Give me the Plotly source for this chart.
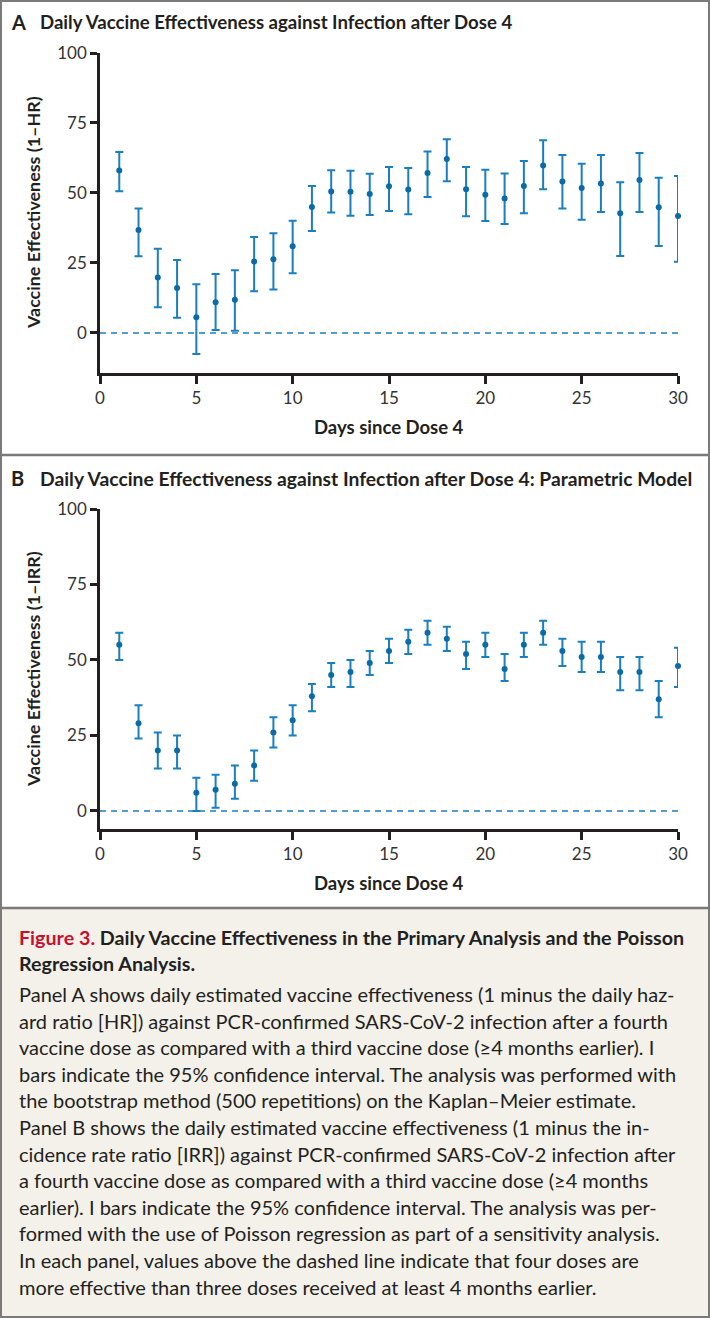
import plotly.graph_objects as go

W, H = 710, 1318

days = list(range(1, 31))

# Panel A: 1 - HR (Kaplan-Meier, bootstrap)
ve_a = [58, 36.8, 19.8, 16.1, 5.6, 11, 11.9, 25.5, 26.3, 31, 45, 50.5, 50.4, 49.6, 52.4,
        51.2, 57.1, 62.1, 51.3, 49.4, 48, 52.5, 59.8, 54.1, 51.8, 53.4, 42.8, 54.6, 44.9, 41.8]
upper_a = [64.6, 44.5, 30.1, 26.1, 17.4, 21.1, 22.4, 34.3, 35.6, 40.1, 52.5, 58.1, 57.9, 56.9, 59.3,
           58.9, 64.8, 69.2, 59.3, 58.3, 57, 61.4, 68.8, 63.6, 60.4, 63.6, 53.8, 64.3, 55.4, 56.1]
lower_a = [50.6, 27.4, 9.2, 5.4, -7.5, 1.1, 0.8, 14.9, 15.5, 21.3, 36.4, 43, 41.9, 42.1, 43.6,
           42.4, 48.6, 54.2, 41.7, 40, 38.9, 42.8, 51.3, 44.5, 40.4, 43.2, 27.5, 43.2, 31.1, 25.4]

# Panel B: 1 - IRR (Poisson regression)
ve_b = [55, 29, 20, 20, 6, 7, 9, 15, 26, 30, 38, 45, 46, 49, 53,
        56, 59, 57, 52, 55, 47, 55, 59, 53, 51, 51, 46, 46, 37, 48]
upper_b = [59, 35, 26, 25, 11, 12, 15, 20, 31, 35, 42, 49, 50, 53, 57,
           60, 63, 61, 56, 59, 52, 59, 63, 57, 56, 56, 51, 51, 43, 54]
lower_b = [50, 24, 14, 14, 0, 1, 4, 10, 21, 25, 33, 41, 41, 45, 49,
           52, 55, 53, 47, 51, 43, 51, 55, 48, 46, 46, 40, 40, 31, 41]

x_ticks = [0, 5, 10, 15, 20, 25, 30]
y_ticks = [0, 25, 50, 75, 100]

title_a = "Daily Vaccine Effectiveness against Infection after Dose 4"
title_b = "Daily Vaccine Effectiveness against Infection after Dose 4: Parametric Model"
ytitle_a = "Vaccine Effectiveness (1\u2013HR)"
ytitle_b = "Vaccine Effectiveness (1\u2013IRR)"
xtitle = "Days since Dose 4"

caption_head = ["<span style='color:#c8102e'>Figure 3.</span> Daily Vaccine Effectiveness in the Primary Analysis and the Poisson",
                "Regression Analysis."]
caption_body = [
    "Panel A shows daily estimated vaccine effectiveness (1 minus the daily haz-",
    "ard ratio [HR]) against PCR-confirmed SARS-CoV-2 infection after a fourth",
    "vaccine dose as compared with a third vaccine dose (\u22654 months earlier). I",
    "bars indicate the 95% confidence interval. The analysis was performed with",
    "the bootstrap method (500 repetitions) on the Kaplan\u2013Meier estimate.",
    "Panel B shows the daily estimated vaccine effectiveness (1 minus the in-",
    "cidence rate ratio [IRR]) against PCR-confirmed SARS-CoV-2 infection after",
    "a fourth vaccine dose as compared with a third vaccine dose (\u22654 months",
    "earlier). I bars indicate the 95% confidence interval. The analysis was per-",
    "formed with the use of Poisson regression as part of a sensitivity analysis.",
    "In each panel, values above the dashed line indicate that four doses are",
    "more effective than three doses received at least 4 months earlier.",
]

FONT = "Lato"
BLUE = "#1a7fc1"
DOT = "#0b6aa8"
AX = "#231f20"


def px_x(p):
    return p / W


def px_y(p):
    return 1 - p / H


fig = go.Figure()

for ve, up, lo, xa, ya in [(ve_a, upper_a, lower_a, "x", "y"), (ve_b, upper_b, lower_b, "x2", "y2")]:
    fig.add_trace(go.Scatter(
        x=[0, 30], y=[0, 0], mode="lines", xaxis=xa, yaxis=ya,
        line=dict(color=BLUE, width=1.5, dash="6px,5px"), hoverinfo="skip", showlegend=False))
    fig.add_trace(go.Scatter(
        x=days, y=ve, mode="markers", xaxis=xa, yaxis=ya, cliponaxis=False,
        marker=dict(color=DOT, size=6),
        error_y=dict(type="data", symmetric=False,
                     array=[u - v for u, v in zip(up, ve)],
                     arrayminus=[v - l for v, l in zip(ve, lo)],
                     color=BLUE, thickness=2, width=4),
        showlegend=False))

axis_common = dict(showline=True, linecolor=AX, linewidth=2.5, ticks="outside",
                   tickcolor=AX, tickwidth=2.5, showgrid=False, zeroline=False,
                   automargin=False,
                   tickfont=dict(family=FONT, size=17, color="#333"))

fig.update_layout(
    width=W, height=H, margin=dict(l=0, r=0, t=0, b=0, pad=0, autoexpand=False),
    paper_bgcolor="white", plot_bgcolor="white", hovermode=False,
    xaxis=dict(domain=[px_x(100), px_x(678)], range=[0, 30], tickvals=x_ticks, ticklen=8,
               anchor="y", **axis_common),
    yaxis=dict(domain=[px_y(373), px_y(53)], range=[-14.3, 100], tickvals=y_ticks, ticklen=7,
               anchor="x", **axis_common),
    xaxis2=dict(domain=[px_x(100), px_x(678)], range=[0, 30], tickvals=x_ticks, ticklen=8,
                anchor="y2", **axis_common),
    yaxis2=dict(domain=[px_y(829), px_y(509)], range=[-6, 100], tickvals=y_ticks, ticklen=7,
                anchor="x2", **axis_common),
)

shapes = [
    dict(type="rect", xref="paper", yref="paper", x0=0, x1=1, y0=0, y1=px_y(908),
         fillcolor="#f4f1eb", line=dict(width=0), layer="below"),
    dict(type="line", xref="paper", yref="paper", x0=0, x1=1, y0=px_y(455), y1=px_y(455),
         line=dict(color="#7a7a7a", width=2.5)),
    dict(type="line", xref="paper", yref="paper", x0=0, x1=1, y0=px_y(908), y1=px_y(908),
         line=dict(color="#7a7a7a", width=2.5)),
    dict(type="rect", xref="paper", yref="paper", x0=px_x(1), x1=px_x(709), y0=px_y(1317), y1=px_y(1),
         line=dict(color="#7a7a7a", width=2)),
]
fig.update_layout(shapes=shapes)

ann = []


def text(x, y, s, size, bold=False, color="#231f20", xanchor="left", angle=0):
    ann.append(dict(xref="paper", yref="paper", x=px_x(x), y=px_y(y), text=(f"<b>{s}</b>" if bold else s),
                    showarrow=False, xanchor=xanchor, yanchor="middle", textangle=angle,
                    font=dict(family=FONT, size=size, color=color)))


# Panel titles
text(9, 22, "A", 20, bold=True)
text(38, 22, title_a, 18.6, bold=True)
text(9, 478, "B", 20, bold=True)
text(38, 478, title_b, 19.3, bold=True)

# axis titles
text(33, 213, ytitle_a, 17.9, bold=True, xanchor="center", angle=-90)
text(33, 669, ytitle_b, 17.9, bold=True, xanchor="center", angle=-90)
text(389, 427, xtitle, 18.5, bold=True, xanchor="center")
text(389, 883, xtitle, 18.5, bold=True, xanchor="center")

# caption
for i, s in enumerate(caption_head):
    text(17, 937 + i * 26.5, s, 19.7, bold=True, color="#231f20")
for i, s in enumerate(caption_body):
    text(17, 994 + i * 26.6, s, 20, color="#231f20")

fig.update_layout(annotations=ann)

fig.write_html("out.html", config={"displayModeBar": False},
               post_script="document.body.style.margin='0';document.body.style.overflow='hidden';")
